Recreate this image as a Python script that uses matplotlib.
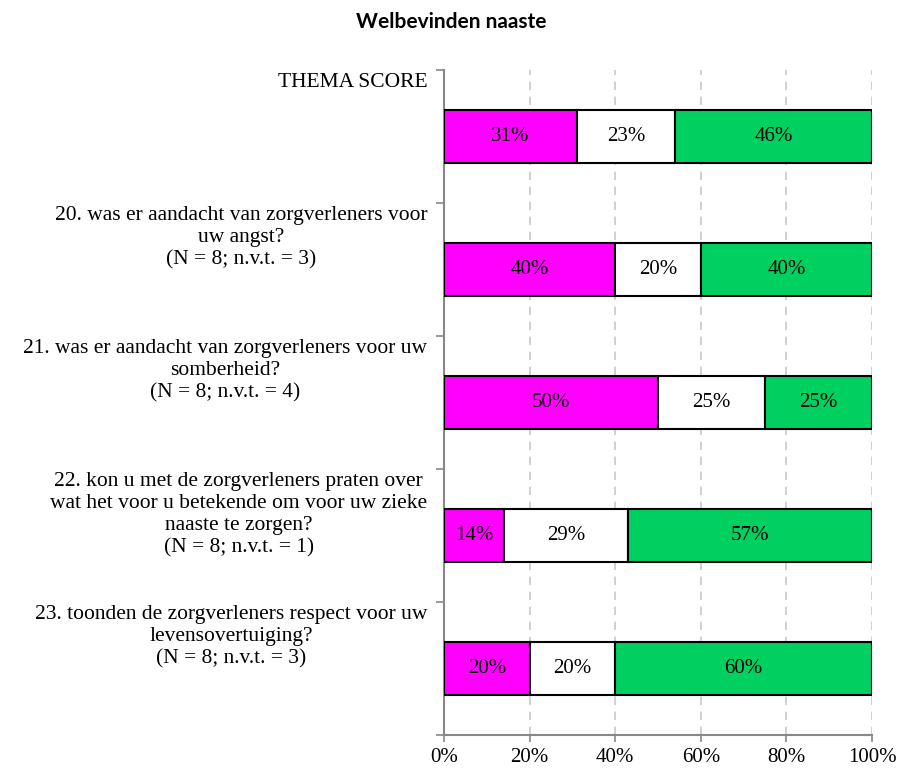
import numpy as np
import matplotlib.pyplot as plt
from matplotlib.ticker import PercentFormatter

categories = [
    "THEMA SCORE",
    "20. was er aandacht van zorgverleners voor\nuw angst?\n(N = 8; n.v.t. = 3)",
    "21. was er aandacht van zorgverleners voor uw\nsomberheid?\n(N = 8; n.v.t. = 4)",
    "22. kon u met de zorgverleners praten over\nwat het voor u betekende om voor uw zieke\nnaaste te zorgen?\n(N = 8; n.v.t. = 1)",
    "23. toonden de zorgverleners respect voor uw\nlevensovertuiging?\n(N = 8; n.v.t. = 3)",
]
negative = [31, 40, 50, 14, 20]
neutral = [23, 20, 25, 29, 20]
positive = [46, 40, 25, 57, 60]

colors = ["#FF00FF", "#FFFFFF", "#00D060"]
serif = "Liberation Serif"

fig = plt.figure(figsize=(9.03, 7.69), dpi=100)
ax = fig.add_axes([0.4917, 0.0442, 0.474, 0.865])

y = np.arange(len(categories))
left = np.zeros(len(categories))
for vals, col in zip([negative, neutral, positive], colors):
    v = np.array(vals) / 100
    bars = ax.barh(y, v, left=left, height=0.4, color=col,
                   edgecolor="black", linewidth=1.5, zorder=3)
    for b, val in zip(bars, vals):
        ax.text(b.get_x() + b.get_width() / 2, b.get_y() + b.get_height() / 2,
                f"{val}%", ha="center", va="center", fontsize=15,
                family=serif, zorder=4)
    left += v

ax.set_xlim(0, 1)
ax.set_ylim(len(categories) - 0.5, -0.5)
ax.xaxis.set_major_formatter(PercentFormatter(1.0, decimals=0))
ax.set_xticks(np.linspace(0, 1, 6))
for lab in ax.get_xticklabels():
    lab.set_family(serif)
    lab.set_fontsize(15)

ax.set_yticks(np.arange(len(categories) + 1) - 0.5)
ax.set_yticklabels([])
ax.tick_params(axis="y", length=6, color="#888888", width=1.2)
ax.tick_params(axis="x", length=5, color="#888888", width=1.2, pad=4)

for s in ["top", "right"]:
    ax.spines[s].set_visible(False)
for s in ["left", "bottom"]:
    ax.spines[s].set_color("#888888")
    ax.spines[s].set_linewidth(1.5)

ax.grid(axis="x", linestyle=(0, (5, 4)), color="#C8C8C8", linewidth=1.2, zorder=0)

for i, cat in enumerate(categories):
    ax.annotate(cat, xy=(0, i - 0.5), xycoords=("axes fraction", "data"),
                xytext=(-12, -2), textcoords="offset points",
                ha="right", va="top", multialignment="center",
                fontsize=15.5, family=serif, linespacing=1.22)

fig.text(0.5, 0.971, "Welbevinden naaste", ha="center", va="center",
         fontsize=15, fontweight="bold", family="Lato")

fig.savefig("out.png", dpi=100)
